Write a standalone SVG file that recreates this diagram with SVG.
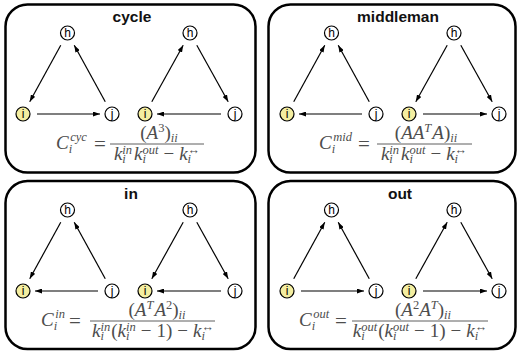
<svg xmlns="http://www.w3.org/2000/svg" width="519" height="355" viewBox="0 0 519 355">
<style>
.panel{fill:#fff;stroke:#000;stroke-width:2.5}
.title{font-family:"Liberation Sans",Arial,sans-serif;font-weight:bold;font-size:15.5px;text-anchor:middle;fill:#111}
.node circle{fill:#fff;stroke:#000;stroke-width:1.2}
.node.hl circle{fill:#f4eea0}
.node text{font-family:"Liberation Sans",Arial,sans-serif;font-size:12px;text-anchor:middle;fill:#000}
.edges path{fill:none;stroke:#000;stroke-width:1.2;marker-end:url(#ah)}
.f{font-family:"Liberation Serif","Times New Roman",serif;font-size:19px;fill:#4d4d4d}
.i{font-style:italic}
.s{font-size:12.5px}
.eq{font-size:21px;text-anchor:middle}
.fl{stroke:#4d4d4d;stroke-width:0.9}
.c{text-anchor:middle}
</style>
<defs>
<marker id="ah" viewBox="0 0 7 5" refX="7" refY="2.5" markerWidth="7" markerHeight="5" markerUnits="userSpaceOnUse" orient="auto"><path d="M0,0 L7,2.5 L0,5 z" fill="#000"/></marker>
</defs>
<rect width="519" height="355" fill="#fff"/>
<g id="panels">
<rect class="panel" x="5.5" y="4.5" width="250" height="168" rx="22"/>
<rect class="panel" x="268.5" y="4.5" width="247" height="168" rx="22"/>
<rect class="panel" x="5.5" y="181" width="250" height="168" rx="22"/>
<rect class="panel" x="268.5" y="181" width="247" height="168" rx="22"/>
</g>
<g id="titles">
<text class="title" x="132" y="22">cycle</text>
<text class="title" x="398" y="22">middleman</text>
<text class="title" x="131" y="199">in</text>
<text class="title" x="400" y="199">out</text>
</g>
<g id="connectors">
<g id="edges-cycle" class="edges">
<path d="M60.76,45.27 L29.74,101.73"/>
<path d="M105.26,101.73 L74.24,45.27"/>
<path d="M37,114 L100,114"/>
<path d="M151.8,101.76 L183.2,45.24"/>
<path d="M196.8,45.24 L228.2,101.76"/>
<path d="M221,114 L157,114"/>
</g>
<g id="edges-middleman" class="edges" transform="translate(264,0)">
<path d="M29.74,101.73 L60.76,45.27"/>
<path d="M105.26,101.73 L74.24,45.27"/>
<path d="M98,114 L35,114"/>
<path d="M183.2,45.24 L151.8,101.76"/>
<path d="M196.8,45.24 L228.2,101.76"/>
<path d="M159,114 L223,114"/>
</g>
<g id="edges-in" class="edges" transform="translate(0,177)">
<path d="M60.76,45.27 L29.74,101.73"/>
<path d="M105.26,101.73 L74.24,45.27"/>
<path d="M98,114 L35,114"/>
<path d="M183.2,45.24 L151.8,101.76"/>
<path d="M196.8,45.24 L228.2,101.76"/>
<path d="M221,114 L157,114"/>
</g>
<g id="edges-out" class="edges" transform="translate(264,177)">
<path d="M29.74,101.73 L60.76,45.27"/>
<path d="M105.26,101.73 L74.24,45.27"/>
<path d="M37,114 L100,114"/>
<path d="M151.8,101.76 L183.2,45.24"/>
<path d="M196.8,45.24 L228.2,101.76"/>
<path d="M159,114 L223,114"/>
</g>
</g>
<g id="cycle-h1" class="node" transform="translate(67.5,33)"><circle r="7"/><text y="4.3">h</text></g>
<g id="cycle-i1" class="node hl" transform="translate(23,114)"><circle r="7"/><text y="4.3">i</text></g>
<g id="cycle-j1" class="node" transform="translate(112,114)"><circle r="7"/><text y="4.3">j</text></g>
<g id="cycle-h2" class="node" transform="translate(190,33)"><circle r="7"/><text y="4.3">h</text></g>
<g id="cycle-i2" class="node hl" transform="translate(145,114)"><circle r="7"/><text y="4.3">i</text></g>
<g id="cycle-j2" class="node" transform="translate(235,114)"><circle r="7"/><text y="4.3">j</text></g>
<g id="mid-h1" class="node" transform="translate(331.5,33)"><circle r="7"/><text y="4.3">h</text></g>
<g id="mid-i1" class="node hl" transform="translate(287,114)"><circle r="7"/><text y="4.3">i</text></g>
<g id="mid-j1" class="node" transform="translate(376,114)"><circle r="7"/><text y="4.3">j</text></g>
<g id="mid-h2" class="node" transform="translate(454,33)"><circle r="7"/><text y="4.3">h</text></g>
<g id="mid-i2" class="node hl" transform="translate(409,114)"><circle r="7"/><text y="4.3">i</text></g>
<g id="mid-j2" class="node" transform="translate(499,114)"><circle r="7"/><text y="4.3">j</text></g>
<g id="in-h1" class="node" transform="translate(67.5,210)"><circle r="7"/><text y="4.3">h</text></g>
<g id="in-i1" class="node hl" transform="translate(23,291)"><circle r="7"/><text y="4.3">i</text></g>
<g id="in-j1" class="node" transform="translate(112,291)"><circle r="7"/><text y="4.3">j</text></g>
<g id="in-h2" class="node" transform="translate(190,210)"><circle r="7"/><text y="4.3">h</text></g>
<g id="in-i2" class="node hl" transform="translate(145,291)"><circle r="7"/><text y="4.3">i</text></g>
<g id="in-j2" class="node" transform="translate(235,291)"><circle r="7"/><text y="4.3">j</text></g>
<g id="out-h1" class="node" transform="translate(331.5,210)"><circle r="7"/><text y="4.3">h</text></g>
<g id="out-i1" class="node hl" transform="translate(287,291)"><circle r="7"/><text y="4.3">i</text></g>
<g id="out-j1" class="node" transform="translate(376,291)"><circle r="7"/><text y="4.3">j</text></g>
<g id="out-h2" class="node" transform="translate(454,210)"><circle r="7"/><text y="4.3">h</text></g>
<g id="out-i2" class="node hl" transform="translate(409,291)"><circle r="7"/><text y="4.3">i</text></g>
<g id="out-j2" class="node" transform="translate(499,291)"><circle r="7"/><text y="4.3">j</text></g>
<g id="formula-cycle">
<text class="f" x="56" y="149"><tspan class="i">C</tspan><tspan class="s i" dy="4">i</tspan><tspan class="s i" dx="-2" dy="-12">cyc</tspan></text>
<text class="f eq" x="100" y="150.5">=</text>
<line class="fl" x1="110" y1="144" x2="204" y2="144"/>
<text class="f c" x="159" y="138.5">(<tspan class="i">A</tspan><tspan class="s" dy="-7">3</tspan><tspan dy="7">)</tspan><tspan class="s i" dy="3">ii</tspan></text>
<text class="f c" x="157" y="159.5"><tspan class="i">k</tspan><tspan class="s i" dy="3.5">i</tspan><tspan class="s i" dx="-3.5" dy="-9.5">in</tspan><tspan class="i" dx="2" dy="6">k</tspan><tspan class="s i" dy="3.5">i</tspan><tspan class="s i" dx="-3.5" dy="-9.5">out</tspan><tspan dx="5" dy="6">−</tspan><tspan class="i" dx="5">k</tspan><tspan class="s i" dy="3.5">i</tspan><tspan class="s" dx="-3.5" dy="-9.5">↔</tspan></text>
</g>
<g id="formula-middleman">
<text class="f" x="319" y="149"><tspan class="i">C</tspan><tspan class="s i" dy="4">i</tspan><tspan class="s i" dx="-2" dy="-12">mid</tspan></text>
<text class="f eq" x="364" y="150.5">=</text>
<line class="fl" x1="377" y1="144" x2="472" y2="144"/>
<text class="f c" x="426" y="138.5">(<tspan class="i">AA</tspan><tspan class="s i" dy="-7">T</tspan><tspan class="i" dx="1" dy="7">A</tspan>)<tspan class="s i" dy="3">ii</tspan></text>
<text class="f c" x="424" y="159.5"><tspan class="i">k</tspan><tspan class="s i" dy="3.5">i</tspan><tspan class="s i" dx="-3.5" dy="-9.5">in</tspan><tspan class="i" dx="2" dy="6">k</tspan><tspan class="s i" dy="3.5">i</tspan><tspan class="s i" dx="-3.5" dy="-9.5">out</tspan><tspan dx="5" dy="6">−</tspan><tspan class="i" dx="5">k</tspan><tspan class="s i" dy="3.5">i</tspan><tspan class="s" dx="-3.5" dy="-9.5">↔</tspan></text>
</g>
<g id="formula-in">
<text class="f" x="41" y="326"><tspan class="i">C</tspan><tspan class="s i" dy="4">i</tspan><tspan class="s i" dx="-2" dy="-12">in</tspan></text>
<text class="f eq" x="75" y="327.5">=</text>
<line class="fl" x1="90" y1="321" x2="215" y2="321"/>
<text class="f c" x="157" y="315.5">(<tspan class="i">A</tspan><tspan class="s i" dy="-7">T</tspan><tspan class="i" dx="1" dy="7">A</tspan><tspan class="s" dy="-7">2</tspan><tspan dy="7">)</tspan><tspan class="s i" dy="3">ii</tspan></text>
<text class="f c" x="153" y="336.5"><tspan class="i">k</tspan><tspan class="s i" dy="3.5">i</tspan><tspan class="s i" dx="-3.5" dy="-9.5">in</tspan><tspan dx="1" dy="6">(</tspan><tspan class="i">k</tspan><tspan class="s i" dy="3.5">i</tspan><tspan class="s i" dx="-3.5" dy="-9.5">in</tspan><tspan dx="5" dy="6">−</tspan><tspan dx="5">1)</tspan><tspan dx="5">−</tspan><tspan class="i" dx="5">k</tspan><tspan class="s i" dy="3.5">i</tspan><tspan class="s" dx="-3.5" dy="-9.5">↔</tspan></text>
</g>
<g id="formula-out">
<text class="f" x="299" y="326"><tspan class="i">C</tspan><tspan class="s i" dy="4">i</tspan><tspan class="s i" dx="-2" dy="-12">out</tspan></text>
<text class="f eq" x="341" y="327.5">=</text>
<line class="fl" x1="352" y1="321" x2="488" y2="321"/>
<text class="f c" x="423" y="315.5">(<tspan class="i">A</tspan><tspan class="s" dy="-7">2</tspan><tspan class="i" dy="7">A</tspan><tspan class="s i" dy="-7">T</tspan><tspan dy="7">)</tspan><tspan class="s i" dy="3">ii</tspan></text>
<text class="f c" x="420" y="336.5"><tspan class="i">k</tspan><tspan class="s i" dy="3.5">i</tspan><tspan class="s i" dx="-3.5" dy="-9.5">out</tspan><tspan dx="1" dy="6">(</tspan><tspan class="i">k</tspan><tspan class="s i" dy="3.5">i</tspan><tspan class="s i" dx="-3.5" dy="-9.5">out</tspan><tspan dx="5" dy="6">−</tspan><tspan dx="5">1)</tspan><tspan dx="5">−</tspan><tspan class="i" dx="5">k</tspan><tspan class="s i" dy="3.5">i</tspan><tspan class="s" dx="-3.5" dy="-9.5">↔</tspan></text>
</g>
</svg>
